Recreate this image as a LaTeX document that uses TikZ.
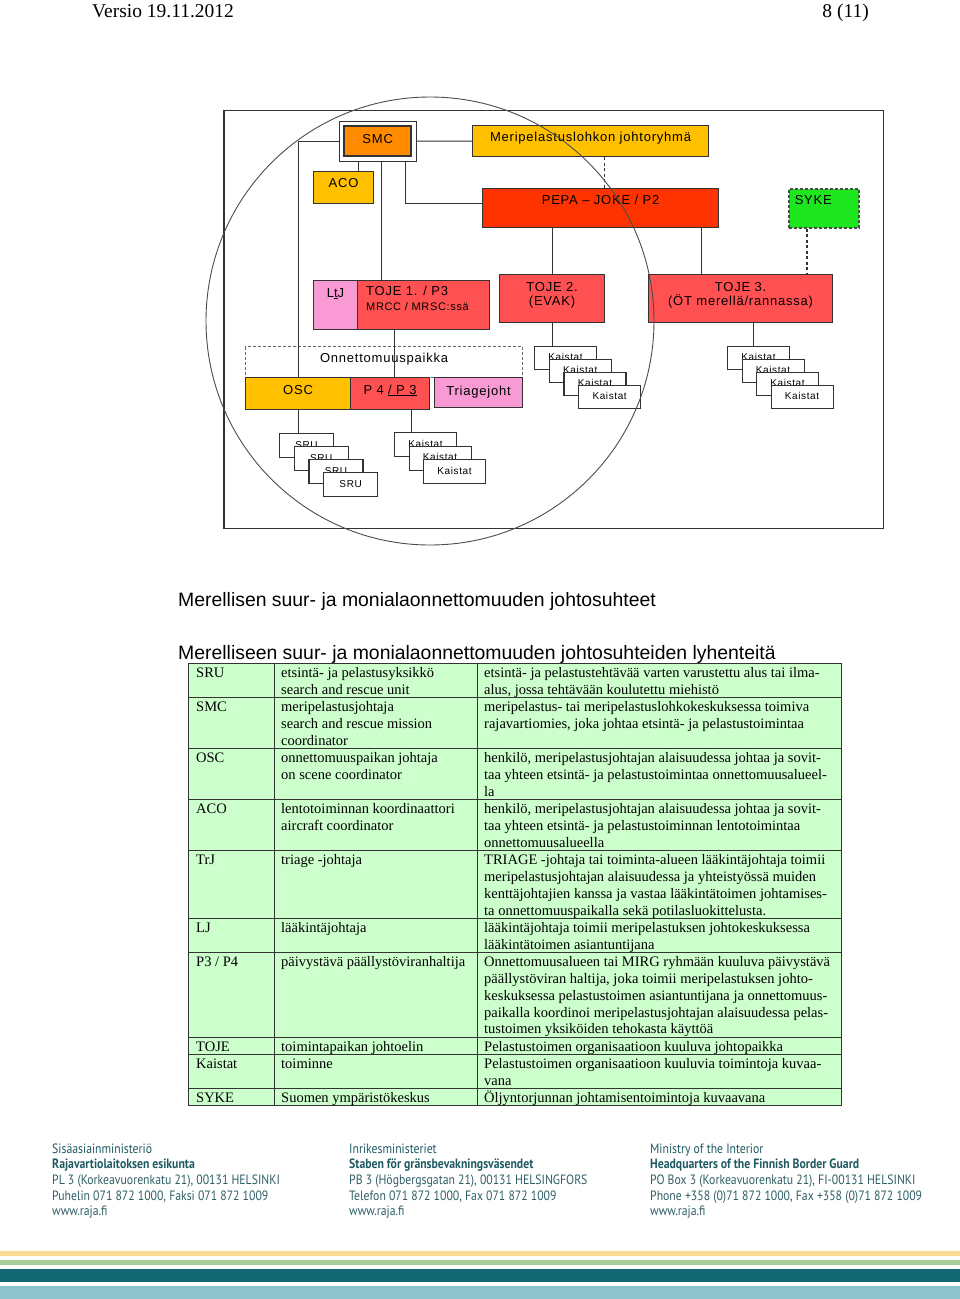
\documentclass[tikz,border=0pt]{standalone}
\usepackage{fontspec}
\setmainfont{Liberation Serif}
\setsansfont{Liberation Sans}
\newfontfamily\chartfont[LetterSpace=6]{Liberation Sans}
\newfontfamily\footfont[FakeStretch=0.87]{PT Sans}
\usetikzlibrary{positioning,fit}
\definecolor{gold}{HTML}{FFC000}
\definecolor{smcorange}{HTML}{FF8C00}
\definecolor{pepared}{HTML}{FF3300}
\definecolor{tojered}{HTML}{FF5151}
\definecolor{rosa}{HTML}{F99AD4}
\definecolor{sykegreen}{HTML}{1EE61E}
\definecolor{tabgreen}{HTML}{CCFFCC}
\definecolor{rule}{HTML}{333333}
\definecolor{footteal}{HTML}{1F5A63}
\definecolor{footgrey}{HTML}{2F5F66}
\definecolor{stripeyellow}{HTML}{F9DC8F}
\definecolor{stripegreen}{HTML}{A9CD99}
\definecolor{stripeteal}{HTML}{136873}
\definecolor{stripeblue}{HTML}{8CC3CC}
\tikzset{box/.style={draw=rule,line width=1.1pt,anchor=north west,inner sep=0pt,font=\chartfont\fontsize{13pt}{15pt}\selectfont,text height=9pt,text depth=#1},box/.default=4pt,
kbox/.style={box,fill=white,minimum width=62pt,minimum height=23pt,font=\chartfont\fontsize{10pt}{12pt}\selectfont},
lines/.style={inner sep=0pt,font=\chartfont\fontsize{13pt}{14.5pt}\selectfont},
link/.style={draw=rule,line width=1pt},dlink/.style={link,dashed,line width=1.4pt,dash pattern=on 3pt off 2.5pt},
frame/.style={draw=rule,line width=1.2pt},ring/.style={draw=black!70,line width=0.9pt},
cell/.style={anchor=north west,inner sep=0pt,align=left,font=\fontsize{14.5pt}{16.95pt}\selectfont},
tabrule/.style={draw=rule,line width=1pt},
foot/.style={anchor=base west,inner sep=0pt,text=footgrey,font=\footfont\fontsize{13.5pt}{15pt}\selectfont},
footb/.style={foot,text=footteal,font=\footfont\bfseries\fontsize{13.5pt}{15pt}\selectfont}}

\begin{document}
\begin{tikzpicture}[x=1pt,y=-1pt]
\fill[white] (0,0) rectangle (960,1299);
\useasboundingbox (0,0) rectangle (960,1299);
\node[anchor=base west,inner sep=0pt,font=\fontsize{19.5pt}{22pt}\selectfont] (versio) at (92,17) {Versio 19.11.2012};
\node[anchor=base east,inner sep=0pt,font=\fontsize{19.5pt}{22pt}\selectfont] (sivu) at (869,17) {8 (11)};

% johtosuhteet
\draw[frame] (224,110.5) rectangle (883.5,528.5);
\node[box,fill=smcorange,line width=2.4pt,minimum width=67pt,minimum height=30pt] (smc) at (343,125) {SMC};
\node[draw=rule,line width=0.8pt,fit=(smc),inner sep=3.5pt] (smcframe) {};
\node[box=10pt,fill=gold,minimum width=60pt,minimum height=32pt] (aco) at (313,171) {ACO};
\node[box=8pt,fill=gold,minimum width=236pt,minimum height=31pt] (meri) at (472,125) {Meripelastuslohkon johtoryhmä};
\node[box=17pt,fill=pepared,minimum width=236pt,minimum height=39pt] (pepa) at (482,188) {PEPA – JOKE / P2};
\node[box=17pt,fill=sykegreen,draw=black!70,dashed,line width=1.6pt,dash pattern=on 3pt off 2pt,minimum width=70pt,minimum height=39pt,text width=58pt,align=left] (syke) at (788,188) {SYKE};
\node[box=25pt,fill=rosa,minimum width=44pt,minimum height=49pt] (ltj) at (313,280) {L\underline{t}J};
\node[box,fill=tojered,minimum width=132pt,minimum height=49pt] (toje1) at (357,280) {};
\node[lines,align=left,anchor=north west] (toje1t) at ([xshift=9pt,yshift=-6pt]toje1.north west) {TOJE 1. / P3\\{\fontsize{11pt}{13pt}\selectfont MRCC / MRSC:ssä}};
\node[box,fill=tojered,minimum width=105pt,minimum height=48pt] (toje2) at (499,274) {};
\node[lines,align=center,anchor=north] (toje2t) at ([yshift=-8pt]toje2.north) {TOJE 2.\\(EVAK)};
\node[box,fill=tojered,minimum width=184pt,minimum height=48pt] (toje3) at (648,274) {};
\node[lines,align=center,anchor=north] (toje3t) at ([yshift=-8pt]toje3.north) {TOJE 3.\\(ÖT merellä/rannassa)};
\node[box=8pt,draw=black!60,dashed,dash pattern=on 3pt off 2pt,minimum width=277pt,minimum height=31pt] (onn) at (245,346) {Onnettomuuspaikka};
\node[box=8pt,fill=gold,minimum width=105pt,minimum height=32pt] (osc) at (245,377) {OSC};
\node[box=8pt,fill=tojered,minimum width=79pt,minimum height=32pt] (p4) at (350,377) {P 4 \underline{/ P 3}};
\node[box,fill=rosa,minimum width=88pt,minimum height=30pt] (tri) at (434,377) {Triagejoht};
\foreach \i in {1,...,4}{
  \node[kbox,minimum width=54pt,minimum height=24pt] (s\i) at ({279+14.7*(\i-1)},{433+13*(\i-1)}) {SRU};
  \node[kbox] (ka\i) at ({534+14.7*(\i-1)},{346+13*(\i-1)}) {Kaistat};
  \node[kbox] (kb\i) at ({727+14.5*(\i-1)},{346+13*(\i-1)}) {Kaistat};
}
\foreach \i in {1,2,3}
  \node[kbox,minimum height=24pt] (kc\i) at ({394+14.5*(\i-1)},{432+13.5*(\i-1)}) {Kaistat};
\path ([xshift=-19.5pt]smcframe.south) coordinate (dA) ([xshift=3.5pt]smcframe.south) coordinate (dT)
  ([xshift=27.5pt]smcframe.south) coordinate (dP) ([xshift=14pt]meri.south) coordinate (dM)
  ([xshift=-39pt]toje3.north) coordinate (dT3) ([xshift=-17pt]syke.south) coordinate (dS)
  ([xshift=-29pt]toje1.south) coordinate (dT1) ([xshift=13pt]toje3.south) coordinate (dK3)
  ([xshift=21.5pt]p4.south) coordinate (dP4);
\draw[link] (smcframe.west) -| (osc.north);
\draw[link] (smcframe.east) -- (meri.west);
\draw[link] (dA) -- (dA |- aco.north);
\draw[link] (dT) -- (dT |- toje1.north);
\draw[link] (dP) |- ([yshift=4.5pt]pepa.west);
\draw[dlink] (dM) -- (dM |- pepa.north);
\draw[link] (toje2.north |- pepa.south) -- (toje2.north);
\draw[link] (dT3 |- pepa.south) -- (dT3);
\draw[dlink] (dS) -- (dS |- toje3.north);
\draw[link] (dT1) -- (dT1 |- p4.north);
\draw[link] (toje2.south) -- (toje2.south |- ka1.north);
\draw[link] (dK3) -- (dK3 |- kb1.north);
\draw[link] (osc.south) -- (osc.south |- s1.north);
\draw[link] (dP4) -- (dP4 |- kc1.north);
\draw[ring] (430,321) circle[radius=224pt];

% lyhenteet
\node[anchor=base west,inner sep=0pt,font=\sffamily\fontsize{19.4pt}{22pt}\selectfont] (title1) at (178,606) {Merellisen suur- ja monialaonnettomuuden johtosuhteet};
\node[anchor=base west,inner sep=0pt,font=\sffamily\fontsize{19.4pt}{22pt}\selectfont] (title2) at (178,659) {Merelliseen suur- ja monialaonnettomuuden johtosuhteiden lyhenteitä};
\fill[tabgreen] (188,663) rectangle (841,1105);
\foreach \rowy/\abbr/\term/\desc in {
  663/SRU/{etsintä- ja pelastusyksikkö\\search and rescue unit}/{etsintä- ja pelastustehtävää varten varustettu alus tai ilma-\\alus, jossa tehtävään koulutettu miehistö},
  697/SMC/{meripelastusjohtaja\\search and rescue mission\\coordinator}/{meripelastus- tai meripelastuslohkokeskuksessa toimiva\\rajavartiomies, joka johtaa etsintä- ja pelastustoimintaa},
  748/OSC/{onnettomuuspaikan johtaja\\on scene coordinator}/{henkilö, meripelastusjohtajan alaisuudessa johtaa ja sovit-\\taa yhteen etsintä- ja pelastustoimintaa onnettomuusalueel-\\la},
  799/ACO/{lentotoiminnan koordinaattori\\aircraft coordinator}/{henkilö, meripelastusjohtajan alaisuudessa johtaa ja sovit-\\taa yhteen etsintä- ja pelastustoiminnan lentotoimintaa\\onnettomuusalueella},
  850/TrJ/{triage -johtaja}/{TRIAGE -johtaja tai toiminta-alueen lääkintäjohtaja toimii\\meripelastusjohtajan alaisuudessa ja yhteistyössä muiden\\kenttäjohtajien kanssa ja vastaa lääkintätoimen johtamises-\\ta onnettomuuspaikalla sekä potilasluokittelusta.},
  918/LJ/{lääkintäjohtaja}/{lääkintäjohtaja toimii meripelastuksen johtokeskuksessa\\lääkintätoimen asiantuntijana},
  952/{P3 / P4}/{päivystävä päällystöviranhaltija}/{Onnettomuusalueen tai MIRG ryhmään kuuluva päivystävä\\päällystöviran haltija, joka toimii meripelastuksen johto-\\keskuksessa pelastustoimen asiantuntijana ja onnettomuus-\\paikalla koordinoi meripelastusjohtajan alaisuudessa pelas-\\tustoimen yksiköiden tehokasta käyttöä},
  1037/TOJE/{toimintapaikan johtoelin}/{Pelastustoimen organisaatioon kuuluva johtopaikka},
  1054/Kaistat/{toiminne}/{Pelastustoimen organisaatioon kuuluvia toimintoja kuvaa-\\vana},
  1088/SYKE/{Suomen ympäristökeskus}/{Öljyntorjunnan johtamisentoimintoja kuvaavana}}{
  \draw[tabrule] (188,\rowy) -- (841,\rowy);
  \node[cell] (a\rowy) at (196,\rowy+2.1) {\strut\abbr};
  \node[cell] (b\rowy) at (281,\rowy+2.1) {\strut\term};
  \node[cell] (c\rowy) at (484,\rowy+2.1) {\strut\desc};
}
\draw[tabrule] (188,663) rectangle (841,1105);
\draw[tabrule] (274,663) -- (274,1105);
\draw[tabrule] (477,663) -- (477,1105);

% alatunniste
\foreach \fx/\la/\lb/\lc/\ld in {
  52/Sisäasiainministeriö/Rajavartiolaitoksen esikunta/{PL 3 (Korkeavuorenkatu 21), 00131 HELSINKI}/{Puhelin 071 872 1000, Faksi 071 872 1009},
  349/Inrikesministeriet/Staben för gränsbevakningsväsendet/{PB 3 (Högbergsgatan 21), 00131 HELSINGFORS}/{Telefon 071 872 1000, Fax 071 872 1009},
  650/Ministry of the Interior/Headquarters of the Finnish Border Guard/{PO Box 3 (Korkeavuorenkatu 21), FI-00131 HELSINKI}/{Phone +358 (0)71 872 1000, Fax +358 (0)71 872 1009}}{
  \node[foot,text=footteal] (f\fx a) at (\fx,1153.5) {\la};
  \node[footb] (f\fx b) at (\fx,1168.5) {\lb};
  \node[foot] (f\fx c) at (\fx,1184.5) {\lc};
  \node[foot] (f\fx d) at (\fx,1200) {\ld};
  \node[foot] (f\fx e) at (\fx,1215.5) {www.raja.fi};
}
\fill[stripeyellow] (0,1251) rectangle (960,1256);
\fill[stripegreen] (0,1259.5) rectangle (960,1264.5);
\fill[stripeteal] (0,1268.5) rectangle (960,1282);
\fill[stripeblue] (0,1286) rectangle (960,1299);
\end{tikzpicture}
\end{document}
